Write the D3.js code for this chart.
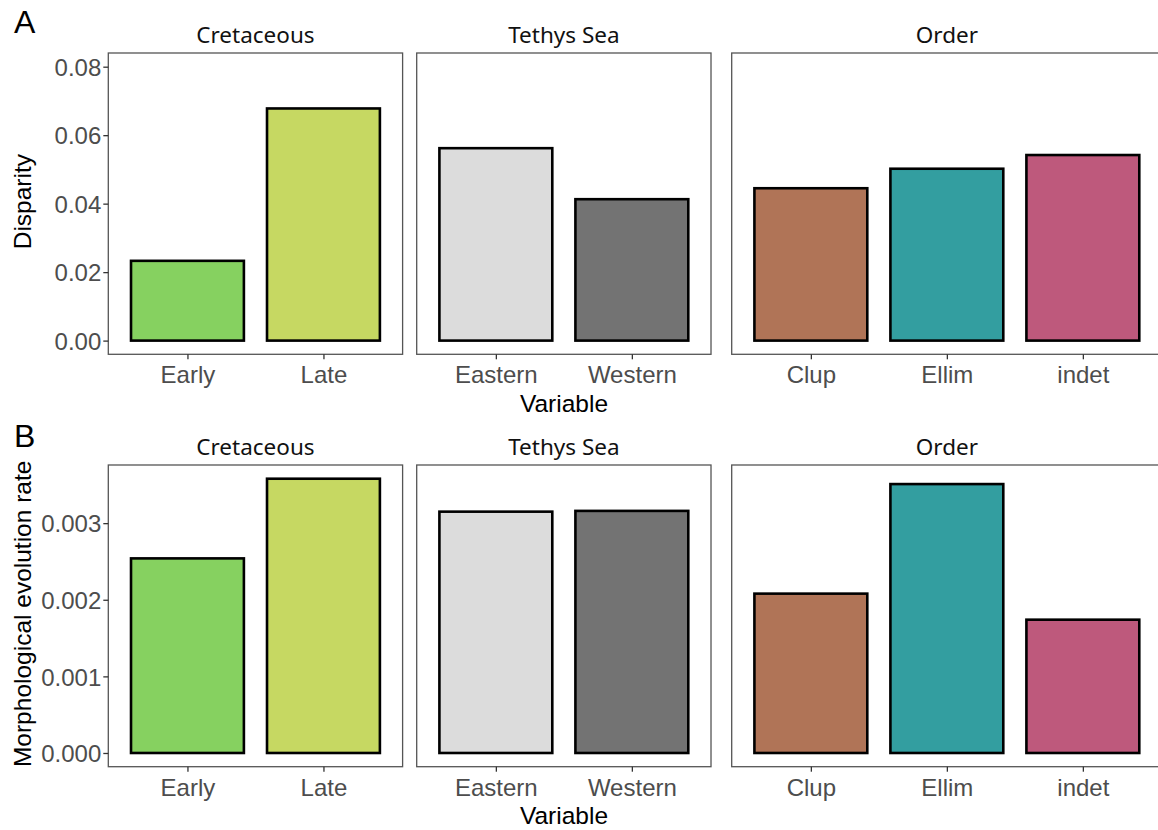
<!DOCTYPE html>
<html>
<head>
<meta charset="utf-8">
<script src="https://cdn.jsdelivr.net/npm/d3@7"></script>
<style>
  html, body { margin: 0; padding: 0; background: #fff; }
  svg { display: block; }
</style>
</head>
<body>
<div id="chart"></div>
<script>
// Facet groups and their categories
const facets = ["Cretaceous", "Tethys Sea", "Order"];
const categories = [["Early", "Late"], ["Eastern", "Western"], ["Clup", "Ellim", "indet"]];

// Row A: disparity per category
const disparity = [[0.0233, 0.0678], [0.0562, 0.0413], [0.0445, 0.0502, 0.0542]];
// Row B: morphological evolution rate per category
const evolutionRate = [[0.00254, 0.00358], [0.00315, 0.00316], [0.00208, 0.00351, 0.00174]];

// Fill colour per category
const fills = [["#86d160", "#c6d862"], ["#dcdcdc", "#737373"], ["#b07457", "#339ea0", "#be597c"]];

// Tick values and labels
const ticksA = [0, 0.02, 0.04, 0.06, 0.08];
const tickLabelsA = ["0.00", "0.02", "0.04", "0.06", "0.08"];
const ticksB = [0, 0.001, 0.002, 0.003];
const tickLabelsB = ["0.000", "0.001", "0.002", "0.003"];

const W = 1158, H = 830;
const svg = d3.select("#chart").append("svg").attr("width", W).attr("height", H);

// Layout of the facet panels
const step = 136;            // distance between category centres
const outerPad = 0.582;      // outer padding in steps
const barFrac = 0.83;        // bar width as fraction of step
const panelLefts = [108.3, 416.7, 731.7];

const rows = [
  { label: "A", top: 53, bottom: 354.3, values: disparity, domainMax: 0.08,
    ticks: ticksA, tickLabels: tickLabelsA, yTitle: "Disparity", stripBase: 43.3, labelBase: 33 },
  { label: "B", top: 465, bottom: 766.7, values: evolutionRate, domainMax: d3.max(evolutionRate.flat()),
    ticks: ticksB, tickLabels: tickLabelsB, yTitle: "Morphological evolution rate", stripBase: 455, labelBase: 447 }
];

const tickFont = "Arial, 'Liberation Sans', sans-serif";
const stripFont = "'Noto Sans', 'Open Sans', sans-serif";
const borderColor = "#555";

rows.forEach(row => {
  const expand = row.domainMax * 0.05;
  const y = d3.scaleLinear()
    .domain([-expand, row.domainMax + expand])
    .range([row.bottom, row.top]);

  const g = svg.append("g");

  facets.forEach((facet, i) => {
    const cats = categories[i];
    const left = panelLefts[i];
    const width = step * (cats.length - 1 + 2 * outerPad);
    const x = d3.scalePoint().domain(cats).range([left, left + width]).padding(outerPad);
    const bw = step * barFrac;

    const panel = g.append("g");

    // panel background
    panel.append("rect")
      .attr("x", left).attr("y", row.top)
      .attr("width", width).attr("height", row.bottom - row.top)
      .attr("fill", "#fff");

    // bars
    panel.selectAll("rect.bar")
      .data(cats.map((c, j) => ({ c, v: row.values[i][j], f: fills[i][j] })))
      .join("rect")
      .attr("class", "bar")
      .attr("x", d => x(d.c) - bw / 2)
      .attr("width", bw)
      .attr("y", d => y(d.v))
      .attr("height", d => y(0) - y(d.v))
      .attr("fill", d => d.f)
      .attr("stroke", "#000")
      .attr("stroke-width", 2.6);

    // panel border
    panel.append("rect")
      .attr("x", left).attr("y", row.top)
      .attr("width", width).attr("height", row.bottom - row.top)
      .attr("fill", "none")
      .attr("stroke", borderColor)
      .attr("stroke-width", 1.3);

    // x axis
    const xAxis = d3.axisBottom(x).tickSize(5).tickPadding(7);
    const ax = panel.append("g")
      .attr("transform", `translate(0,${row.bottom})`)
      .call(xAxis);
    ax.select(".domain").remove();
    ax.selectAll(".tick line").attr("stroke", "#333").attr("stroke-width", 1.3);
    ax.selectAll(".tick text")
      .attr("fill", "#4d4d4d")
      .attr("font-family", tickFont)
      .attr("font-size", 24)
      .attr("dy", "0.71em");

    // strip title
    panel.append("text")
      .attr("x", left + width / 2)
      .attr("y", row.stripBase)
      .attr("text-anchor", "middle")
      .attr("font-family", stripFont)
      .attr("font-size", 22.5)
      .attr("fill", "#111")
      .text(facet);

    // y axis on first panel only
    if (i === 0) {
      const yAxis = d3.axisLeft(y)
        .tickValues(row.ticks)
        .tickFormat((d, k) => row.tickLabels[k])
        .tickSize(5).tickPadding(2);
      const ay = panel.append("g")
        .attr("transform", `translate(${left},0)`)
        .call(yAxis);
      ay.select(".domain").remove();
      ay.selectAll(".tick line").attr("stroke", "#333").attr("stroke-width", 1.3);
      ay.selectAll(".tick text")
        .attr("fill", "#4d4d4d")
        .attr("font-family", tickFont)
        .attr("font-size", 24)
        .attr("dy", "0.36em");
    }
  });

  // y axis title
  g.append("text")
    .attr("transform", `translate(31,${(row.top + row.bottom) / 2 - 2}) rotate(-90)`)
    .attr("text-anchor", "middle")
    .attr("font-family", tickFont)
    .attr("font-size", 24.5)
    .attr("fill", "#000")
    .text(row.yTitle);

  // x axis title
  g.append("text")
    .attr("x", 564)
    .attr("y", row.bottom + 57.5)
    .attr("text-anchor", "middle")
    .attr("font-family", tickFont)
    .attr("font-size", 24.5)
    .attr("fill", "#000")
    .text("Variable");

  // row tag
  g.append("text")
    .attr("x", 14)
    .attr("y", row.labelBase)
    .attr("font-family", tickFont)
    .attr("font-size", 32)
    .attr("fill", "#000")
    .text(row.label);
});
</script>
</body>
</html>
